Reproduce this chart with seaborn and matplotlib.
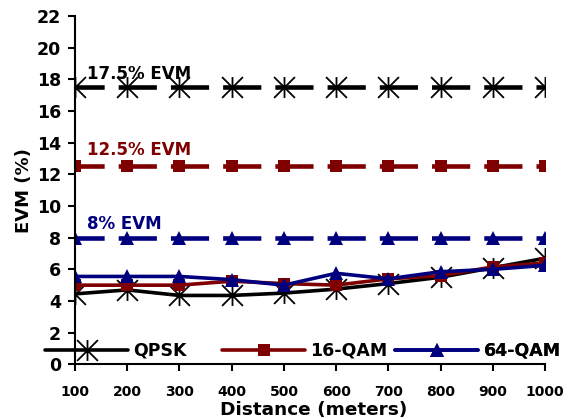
import matplotlib
matplotlib.use('Agg')
import matplotlib.pyplot as plt
from matplotlib.path import Path
import numpy as np
import seaborn as sns

# data
distance = [100, 200, 300, 400, 500, 600, 700, 800, 900, 1000]
evm_qpsk = [4.45, 4.7, 4.35, 4.35, 4.5, 4.75, 5.1, 5.5, 6.1, 6.7]
evm_16qam = [5.0, 5.0, 5.0, 5.25, 5.1, 5.0, 5.4, 5.6, 6.15, 6.4]
evm_64qam = [5.55, 5.55, 5.55, 5.35, 5.0, 5.75, 5.4, 5.85, 6.0, 6.25]
limit_qpsk = [17.5] * 10
limit_16qam = [12.5] * 10
limit_64qam = [8.0] * 10
series_labels = ['QPSK', '16-QAM', '64-QAM']
limit_labels = ['17.5% EVM', '12.5% EVM', '8% EVM']

BLACK = '#000000'
RED = '#7f0000'
BLUE = '#00007f'

sns.set_style('ticks')
plt.rcParams['font.family'] = ['DejaVu Sans']
plt.rcParams['font.weight'] = 'bold'
plt.rcParams['lines.scale_dashes'] = False
plt.rcParams['text.color'] = 'black'
plt.rcParams['axes.labelcolor'] = 'black'
plt.rcParams['xtick.color'] = 'black'
plt.rcParams['ytick.color'] = 'black'

# excel style asterisk: vertical bar plus two diagonals
star = Path([(0, -1), (0, 1), (-1, -1), (1, 1), (-1, 1), (1, -1)],
            [Path.MOVETO, Path.LINETO, Path.MOVETO, Path.LINETO, Path.MOVETO, Path.LINETO])

fig = plt.figure(figsize=(5.74, 4.19), dpi=100)
ax = fig.add_axes([0.1307, 0.1305, 0.8188, 0.8313])

dash = (6.5, (27.5, 10.1))
styles = [
    dict(color=BLACK, marker=star, markersize=15, markeredgewidth=1.3,
         markeredgecolor=BLACK, markerfacecolor='none'),
    dict(color=RED, marker='s', markersize=8.5, markeredgewidth=0, markeredgecolor=RED),
    dict(color=BLUE, marker='^', markersize=9.5, markeredgewidth=0, markeredgecolor=BLUE),
]

# threshold lines
for lim, st in zip([limit_qpsk, limit_16qam, limit_64qam], styles):
    sns.lineplot(x=distance, y=lim, ax=ax, linewidth=3.3, linestyle=dash, **st)

# measured curves
handles = []
for vals, st in zip([evm_qpsk, evm_16qam, evm_64qam], styles):
    sns.lineplot(x=distance, y=vals, ax=ax, linewidth=2.6, **st)
    handles.append(ax.lines[-1])

# threshold annotations
for y, s, c in zip([18.35, 13.55, 8.85], limit_labels, [BLACK, RED, BLUE]):
    ax.text(123, y, s, color=c, fontsize=12, fontweight='bold', ha='left', va='center')

ax.set_xlim(100, 1000)
ax.set_ylim(0, 22)
ax.set_xticks(distance)
ax.set_yticks(np.arange(0, 23, 2))
ax.tick_params(axis='x', direction='out', length=5, width=1.5, pad=10, labelsize=10)
ax.tick_params(axis='y', direction='out', length=5, width=1.5, pad=5, labelsize=12.5)
for lab in ax.get_xticklabels() + ax.get_yticklabels():
    lab.set_fontweight('bold')

sns.despine(ax=ax)
for sp in ['left', 'bottom']:
    ax.spines[sp].set_linewidth(1.5)
    ax.spines[sp].set_color('black')

ax.set_xlabel('Distance (meters)', fontsize=13.3, fontweight='bold')
ax.set_ylabel('EVM (%)', fontsize=13, fontweight='bold')
ax.xaxis.set_label_coords(0.5085, -0.104)
ax.yaxis.set_label_coords(-0.089, 0.5)

# three legend entries, each placed on its own like the excel legend
legend_x = [45 / 574, 222 / 574, 395 / 574]
for h, lab, lx in zip(handles, series_labels, legend_x):
    leg = ax.legend([h], [lab], loc='center left', bbox_to_anchor=(lx, 0.163),
                    bbox_transform=fig.transFigure, frameon=False, borderpad=0,
                    borderaxespad=0, handlelength=4.8, handletextpad=0.3,
                    prop={'size': 12.5, 'weight': 'bold'})
    ax.add_artist(leg)

fig.savefig('out.png', dpi=100)
